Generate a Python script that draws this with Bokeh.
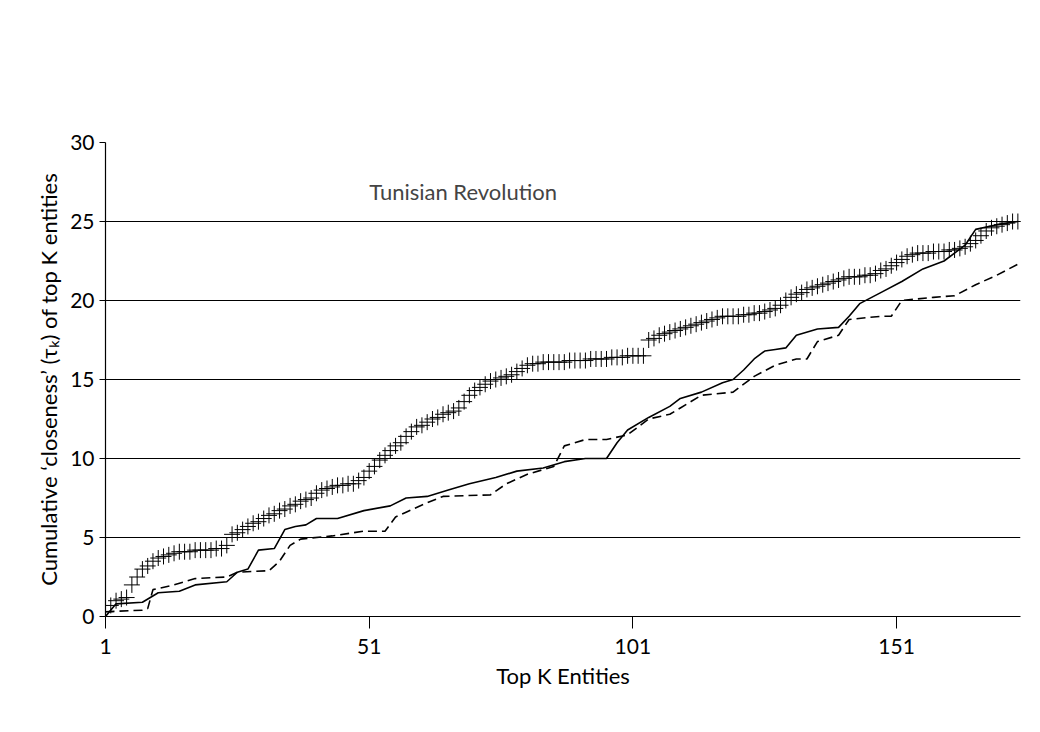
from bokeh.models import Legend, LegendItem, Label, FixedTicker
from bokeh.plotting import figure
from bokeh.embed import file_html
from bokeh.resources import INLINE

# Evolutionary Mutual Reinforcement Model, one value per K = 1..174
evo = [0.3, 0.7, 1.0, 1.1, 1.2, 2.0, 2.5, 3.0, 3.2, 3.5,
       3.7, 3.8, 3.9, 4.0, 4.1, 4.1, 4.1, 4.2, 4.2, 4.2,
       4.2, 4.3, 4.3, 4.5, 5.2, 5.3, 5.5, 5.7, 5.9, 6.0,
       6.2, 6.4, 6.5, 6.7, 6.8, 7.0, 7.1, 7.3, 7.4, 7.5,
       7.8, 8.0, 8.1, 8.2, 8.3, 8.3, 8.4, 8.4, 8.6, 8.8,
       9.2, 9.5, 9.9, 10.2, 10.5, 10.8, 11.0, 11.4, 11.7, 12.0,
       12.1, 12.3, 12.5, 12.6, 12.8, 12.9, 13.0, 13.2, 13.6, 14.0,
       14.3, 14.5, 14.7, 14.9, 15.0, 15.1, 15.2, 15.3, 15.5, 15.7,
       15.9, 16.0, 16.0, 16.1, 16.1, 16.1, 16.1, 16.1, 16.2, 16.2,
       16.2, 16.2, 16.3, 16.3, 16.3, 16.3, 16.4, 16.4, 16.4, 16.5,
       16.5, 16.5, 16.5, 17.5, 17.6, 17.8, 17.9, 18.0, 18.1, 18.2,
       18.3, 18.4, 18.5, 18.6, 18.7, 18.8, 18.9, 19.0, 19.0, 19.0,
       19.0, 19.1, 19.1, 19.2, 19.2, 19.3, 19.4, 19.5, 19.7, 20.0,
       20.2, 20.4, 20.5, 20.7, 20.8, 20.9, 21.0, 21.1, 21.2, 21.3,
       21.4, 21.5, 21.5, 21.5, 21.6, 21.6, 21.7, 21.9, 22.0, 22.2,
       22.4, 22.6, 22.8, 22.9, 23.0, 23.0, 23.0, 23.1, 23.1, 23.1,
       23.2, 23.2, 23.3, 23.4, 23.6, 23.8, 24.1, 24.4, 24.6, 24.7,
       24.8, 24.9, 25.0, 25.0]
evo_k = list(range(1, len(evo) + 1))

google_k = [1, 3, 8, 11, 15, 18, 24, 26, 28, 30, 33, 35, 37, 39, 41, 45, 50, 55, 58, 62,
            66, 70, 75, 79, 84, 88, 92, 96, 98, 100, 104, 108, 110, 114, 118, 120, 122, 124,
            126, 128, 130, 132, 136, 140, 142, 144, 148, 152, 156, 160, 164, 166, 170, 174]
google = [0.0, 0.8, 0.9, 1.5, 1.6, 2.0, 2.2, 2.8, 3.0, 4.2, 4.3, 5.5, 5.7, 5.8, 6.2, 6.2, 6.7, 7.0, 7.5, 7.6,
          8.0, 8.4, 8.8, 9.2, 9.4, 9.8, 10.0, 10.0, 11.0, 11.8, 12.6, 13.3, 13.8, 14.2, 14.8, 15.0, 15.6, 16.3,
          16.8, 16.9, 17.0, 17.8, 18.2, 18.3, 19.0, 19.8, 20.5, 21.2, 22.0, 22.5, 23.5, 24.5, 24.8, 25.0]

static_k = [1, 8, 9, 10, 14, 18, 24, 26, 32, 34, 36, 38, 44, 50, 54, 56, 58, 62, 65, 74,
            77, 81, 86, 88, 92, 96, 100, 104, 108, 110, 114, 120, 124, 128, 132, 134, 136, 140,
            142, 148, 150, 152, 158, 162, 166, 170, 174]
static = [0.3, 0.4, 0.5, 1.7, 2.0, 2.4, 2.5, 2.8, 2.9, 3.5, 4.5, 4.9, 5.1, 5.4, 5.4, 6.3, 6.6, 7.2, 7.6, 7.7,
          8.4, 9.0, 9.5, 10.8, 11.2, 11.2, 11.5, 12.5, 12.8, 13.2, 14.0, 14.2, 15.2, 15.9, 16.3, 16.3, 17.4, 17.8,
          18.8, 19.0, 19.0, 20.0, 20.2, 20.3, 21.0, 21.6, 22.3]

FONT = "Lato"

p = figure(width=1024, height=716, x_range=(1, 174.5), y_range=(0, 30),
           output_backend="svg", toolbar_location=None,
           min_border_left=105, min_border_right=4, min_border_top=142, min_border_bottom=100)
p.outline_line_color = None
p.xgrid.grid_line_color = None
p.ygrid.grid_line_color = "black"
p.ygrid.grid_line_width = 1.2

r_google = p.line(google_k, google, line_color="black", line_width=1.6)
r_evo = p.scatter(evo_k, evo, marker="cross", size=16, line_color="black", line_width=1)
r_static = p.line(static_k, static, line_color="black", line_width=1.6, line_dash="9 5")

p.xaxis.ticker = FixedTicker(ticks=[1, 51, 101, 151])
p.yaxis.ticker = FixedTicker(ticks=[0, 5, 10, 15, 20, 25, 30])
for ax in (p.xaxis[0], p.yaxis[0]):
    ax.axis_line_color = "black"
    ax.axis_line_width = 1.2
    ax.major_tick_line_color = "black"
    ax.minor_tick_line_color = None
    ax.major_label_text_font = FONT
    ax.major_label_text_font_size = "21px"
    ax.major_label_text_color = "black"
    ax.axis_label_text_font = FONT
    ax.axis_label_text_font_size = "22px"
    ax.axis_label_text_font_style = "normal"
    ax.axis_label_text_color = "black"
p.xaxis.major_tick_out = 12
p.xaxis.major_tick_in = 0
p.yaxis.major_tick_out = 6
p.yaxis.major_tick_in = 0
p.xaxis.major_label_standoff = 10
p.xaxis.axis_label = "Top K Entities"
p.yaxis.axis_label = "Cumulative \u2018closeness\u2019 (\u03c4\u2096) of top K entities"

p.add_layout(Label(x=51, y=26.9, text="Tunisian Revolution", text_font=FONT,
                   text_font_size="22px", text_baseline="middle"))

legend = Legend(items=[LegendItem(label="Google", renderers=[r_google]),
                       LegendItem(label="Evolutionary Mutual Reinforcement Model", renderers=[r_evo]),
                       LegendItem(label="Conventional Static Mutual Reinforcement Model", renderers=[r_static])],
                location=(100, 478), border_line_color=None, background_fill_alpha=0,
                label_text_font=FONT, label_text_font_size="22px", glyph_width=16,
                spacing=14, padding=0, label_standoff=4)
p.add_layout(legend, "center")

open("out.html", "w").write(file_html(p, INLINE))
